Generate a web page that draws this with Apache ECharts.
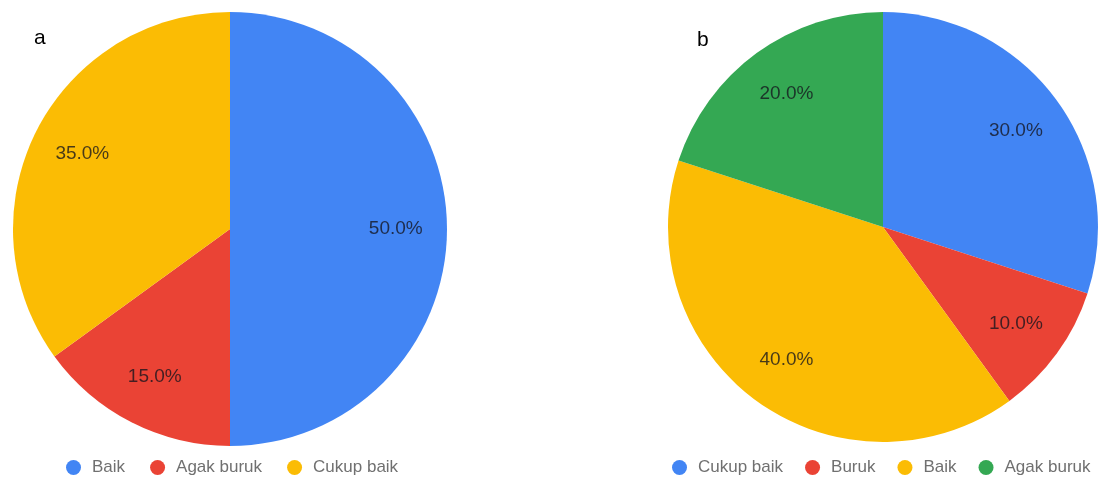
<!DOCTYPE html>
<html><head><meta charset="utf-8">
<script src="https://cdn.jsdelivr.net/npm/echarts@6/dist/echarts.min.js"></script>
<style>
html,body{margin:0;padding:0;background:#fff;overflow:hidden;}
#wrap{position:relative;width:1099px;height:483px;}
#ca{position:absolute;left:0;top:0;width:530px;height:483px;}
#cb{position:absolute;left:530px;top:0;width:569px;height:483px;}
</style></head>
<body><div id="wrap"><div id="ca"></div><div id="cb"></div></div>
<script>
const namesA = ['Baik', 'Agak buruk', 'Cukup baik'];
const valuesA = [50, 15, 35];
const colorsA = ['#4285F4', '#EA4335', '#FBBC04'];
const namesB = ['Cukup baik', 'Buruk', 'Baik', 'Agak buruk'];
const valuesB = [30, 10, 40, 20];
const colorsB = ['#4285F4', '#EA4335', '#FBBC04', '#34A853'];

function build(names, values, colors, center, r, tag, tagPos, legendLeft, gap) {
  const data = names.map((n, i) => ({ name: n, value: values[i] }));
  const total = values.reduce((a, b) => a + b, 0);
  return {
    animation: false,
    color: colors,
    graphic: [{ type: 'text', left: tagPos[0], top: tagPos[1],
      style: { text: tag, font: '21px "Liberation Sans", Arial, sans-serif', fill: '#000' } }],
    legend: {
      data: names, top: 459, left: legendLeft, padding: 0,
      icon: 'circle', itemWidth: 15, itemHeight: 15, itemGap: gap,
      textStyle: { color: '#707070', fontSize: 17, fontFamily: '"Liberation Sans", Arial, sans-serif', padding: [0, 0, 0, 6] }
    },
    series: [
      { type: 'pie', center: center, radius: [0, r], startAngle: 90, clockwise: true,
        data: data, label: { show: false }, labelLine: { show: false },
        itemStyle: { borderWidth: 0 }, emphasis: { disabled: true } },
      { type: 'pie', center: center, radius: [r * 0.5, r], startAngle: 90, clockwise: true,
        data: data, silent: true, legendHoverLink: false,
        itemStyle: { color: 'rgba(0,0,0,0)', borderWidth: 0 },
        label: { show: true, position: 'inside', color: 'rgba(20,20,30,0.78)', fontSize: 19,
          fontFamily: '"Liberation Sans", Arial, sans-serif',
          formatter: p => (p.value / total * 100).toFixed(1) + '%' },
        labelLine: { show: false }, emphasis: { disabled: true } }
    ]
  };
}
const ca = echarts.init(document.getElementById('ca'));
ca.setOption(build(namesA, valuesA, colorsA, [230, 229], 217, 'a', [34, 28], 66, 25));
const cb = echarts.init(document.getElementById('cb'));
cb.setOption(build(namesB, valuesB, colorsB, [353, 227], 215, 'b', [167, 30], 142, 22));
</script></body></html>
